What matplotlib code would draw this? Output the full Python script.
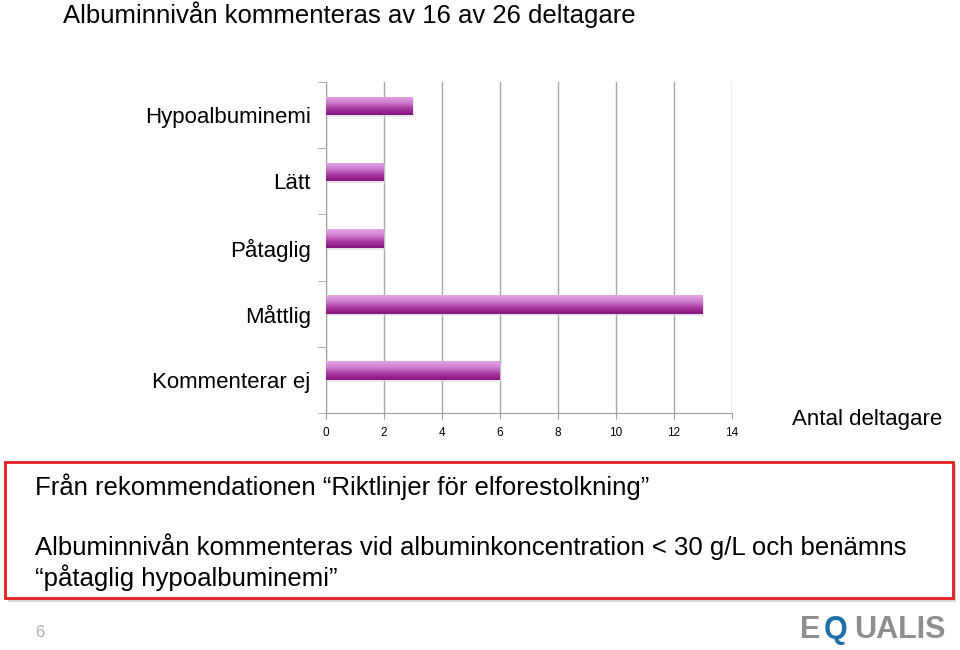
import numpy as np
import matplotlib.pyplot as plt
from matplotlib.patches import Rectangle
from matplotlib.colors import LinearSegmentedColormap

plt.rcParams['font.family'] = ['Liberation Sans', 'DejaVu Sans']

categories = ['Kommenterar ej', 'Måttlig', 'Påtaglig', 'Lätt', 'Hypoalbuminemi']
values = [6, 13, 2, 2, 3]
xticks = [0, 2, 4, 6, 8, 10, 12, 14]

fig = plt.figure(figsize=(9.6, 6.5), dpi=100)
ax = fig.add_axes([0.3396, 0.3646, 0.4226, 0.5092])

ypos = np.arange(len(categories))
bars = ax.barh(ypos + 0.14, values, height=0.28, color='none', edgecolor='none', zorder=3)

# vertical gradient inside each bar: light top, dark bottom
cmap = LinearSegmentedColormap.from_list('pur', ['#e3a6e3', '#cf7fd0', '#a8389f', '#86137f'])
grad = np.linspace(0, 1, 64).reshape(-1, 1)
for b in bars:
    x0, y0 = b.get_x(), b.get_y()
    w, h = b.get_width(), b.get_height()
    ax.add_patch(Rectangle((x0 + 0.04, y0 - 0.03), w, h, color='#d8d8d8', alpha=0.6, zorder=2, lw=0))
    im = ax.imshow(grad, cmap=cmap, aspect='auto', extent=(x0, x0 + w, y0, y0 + h),
                   origin='upper', zorder=3, interpolation='bilinear')
    im.set_clip_path(b)

ax.set_xlim(0, 14)
ax.set_ylim(-0.5, 4.5)
ax.set_xticks(xticks)
ax.set_xticklabels([str(t) for t in xticks], fontsize=8.5)
ax.set_yticks(ypos)
ax.set_yticklabels(categories, fontsize=16)
ax.set_yticks(np.arange(-0.5, 5, 1), minor=True)
ax.tick_params(axis='y', which='major', length=0, pad=11)
ax.tick_params(axis='y', which='minor', length=6, color='#a0a0a0')
ax.tick_params(axis='x', length=4, color='#a0a0a0', pad=6)
ax.grid(axis='x', color='#a8a8a8', lw=1, zorder=0)
ax.set_axisbelow(True)
for s in ['top', 'right']:
    ax.spines[s].set_visible(False)
for s in ['left', 'bottom']:
    ax.spines[s].set_color('#a0a0a0')

fig.text(0.066, 0.978, 'Albuminnivån kommenteras av 16 av 26 deltagare', fontsize=18.5, va='center')
fig.text(0.981, 0.354, 'Antal deltagare', fontsize=16, ha='right', va='center')

# red box with shadow
fig.patches.append(Rectangle((0.008, 0.074), 0.988, 0.212, transform=fig.transFigure,
                             facecolor='#b0b0b0', edgecolor='none', alpha=0.5, zorder=0))
fig.patches.append(Rectangle((0.005, 0.08), 0.988, 0.21, transform=fig.transFigure,
                             facecolor='white', edgecolor='#e01e1e', lw=2, zorder=1))

fig.text(0.036, 0.252, 'Från rekommendationen “Riktlinjer för elforestolkning”', fontsize=18.5, va='center')
fig.text(0.036, 0.159, 'Albuminnivån kommenteras vid albuminkoncentration < 30 g/L och benämns',
         fontsize=18.5, va='center')
fig.text(0.036, 0.112, '“påtaglig hypoalbuminemi”', fontsize=18.5, va='center')

fig.text(0.037, 0.015, '6', fontsize=12, color='#b0b0b0', va='bottom')

# logo
fig.text(0.833, 0.018, 'E', fontsize=22, color='#8e8e8e', va='baseline', fontweight='bold')
fig.text(0.858, 0.018, 'Q', fontsize=22, color='#1f6fa8', va='baseline', fontweight='bold')
fig.text(0.890, 0.018, 'UALIS', fontsize=22, color='#8e8e8e', va='baseline', fontweight='bold')

fig.savefig('out.png', dpi=100)
